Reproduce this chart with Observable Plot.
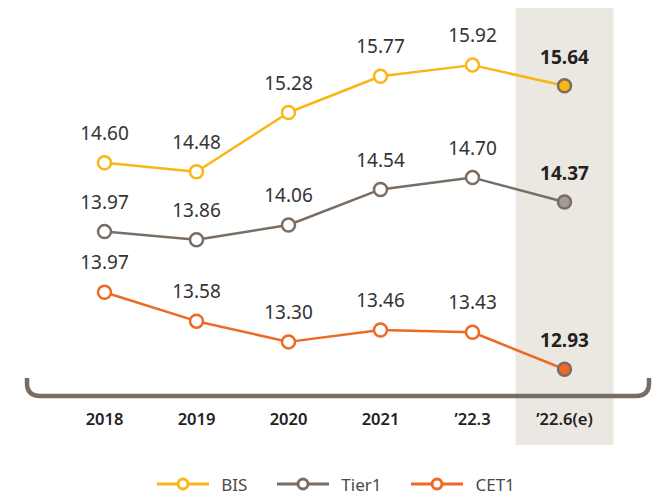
<!DOCTYPE html>
<html>
<head>
<meta charset="utf-8">
<script src="https://cdn.jsdelivr.net/npm/d3@7"></script>
<script src="https://cdn.jsdelivr.net/npm/@observablehq/plot@0.6"></script>
<style>
  html, body { margin: 0; padding: 0; background: #fff; }
  #chart { width: 658px; }
  #legend { display: flex; justify-content: center; align-items: center; gap: 30px; height: 38px;
    font-family: "Noto Sans", sans-serif; font-size: 17px; color: #4a4a4a; margin-left: 14px; }
  .item { display: flex; align-items: center; gap: 12px; }
</style>
</head>
<body>
<div id="chart"></div>
<div id="legend"></div>
<script>
const categories = ["2018", "2019", "2020", "2021", "’22.3", "’22.6(e)"];
const seriesNames = ["BIS", "Tier1", "CET1"];
const bisValues = [14.60, 14.48, 15.28, 15.77, 15.92, 15.64];
const tier1Values = [13.97, 13.86, 14.06, 14.54, 14.70, 14.37];
const cet1Values = [13.97, 13.58, 13.30, 13.46, 13.43, 12.93];
const seriesColors = ["#f9b614", "#7a6e64", "#ec6a24"];
const lastFill = ["#f9b614", "#a39a91", "#ec6a24"];
// vertical separation of the series in the schematic layout (display shift)
const seriesShift = [0, 0.3, 1.12];
const highlight = "’22.6(e)";

const valuesBySeries = [bisValues, tier1Values, cet1Values];
const data = [];
seriesNames.forEach((s, si) => {
  categories.forEach((c, ci) => {
    data.push({series: s, si, cat: c, value: valuesBySeries[si][ci], pos: valuesBySeries[si][ci] - seriesShift[si], last: c === highlight});
  });
});

const W = 658, H = 465;
const font = "'Noto Sans', sans-serif";

const plot = Plot.plot({
  width: W, height: H,
  marginTop: 8, marginBottom: 20, marginLeft: 0, marginRight: 0,
  style: {fontFamily: font, background: "transparent"},
  x: {type: "point", domain: categories, range: [103, 565], padding: 0, axis: null},
  y: {domain: [11.5, 16.5], range: [391.7, 21.7], axis: null},
  marks: [
    Plot.ruleX([highlight], {x: d => d, stroke: "#ebe8e1", strokeWidth: 98}),
    Plot.line(data, {x: "cat", y: "pos", z: "series", stroke: d => seriesColors[d.si], strokeWidth: 2.5}),
    Plot.dot(data.filter(d => !d.last), {x: "cat", y: "pos", r: 6.5, fill: "#fff", stroke: d => seriesColors[d.si], strokeWidth: 2.5}),
    Plot.dot(data.filter(d => d.last), {x: "cat", y: "pos", r: 6.5, fill: d => lastFill[d.si], stroke: "#7a6e64", strokeWidth: 2.5}),
    Plot.text(data.filter(d => !d.last), {x: "cat", y: "pos", text: d => d.value.toFixed(2), dy: -29, fontSize: 19, fill: "#333"}),
    Plot.text(data.filter(d => d.last), {x: "cat", y: "pos", text: d => d.value.toFixed(2), dy: -28, fontSize: 19, fontWeight: "bold", fill: "#222"}),
    Plot.text(categories, {x: d => d, frameAnchor: "bottom", dy: -21, text: d => d, fontSize: 16.5, fontWeight: 600, fill: "#222"})
  ]
});

// bottom bracket (decorative axis line)
const svgSel = d3.select(plot);
const bLeft = 27, bRight = 649, bBase = 396, bTop = 378, bR = 13;
svgSel.append("path")
  .attr("d", `M${bLeft},${bTop} L${bLeft},${bBase - bR} Q${bLeft},${bBase} ${bLeft + bR},${bBase} L${bRight - bR},${bBase} Q${bRight},${bBase} ${bRight},${bBase - bR} L${bRight},${bTop}`)
  .attr("fill", "none").attr("stroke", "#786d63").attr("stroke-width", 4.5);

document.getElementById("chart").appendChild(plot);

// legend
const legendEl = document.getElementById("legend");
seriesNames.forEach((s, i) => {
  const item = document.createElement("div");
  item.className = "item";
  item.innerHTML = `<svg width="52" height="16"><line x1="0" x2="52" y1="8" y2="8" stroke="${seriesColors[i]}" stroke-width="3"/><circle cx="26" cy="8" r="5" fill="#fff" stroke="${seriesColors[i]}" stroke-width="3"/></svg><span>${s}</span>`;
  legendEl.appendChild(item);
});
</script>
</body>
</html>
